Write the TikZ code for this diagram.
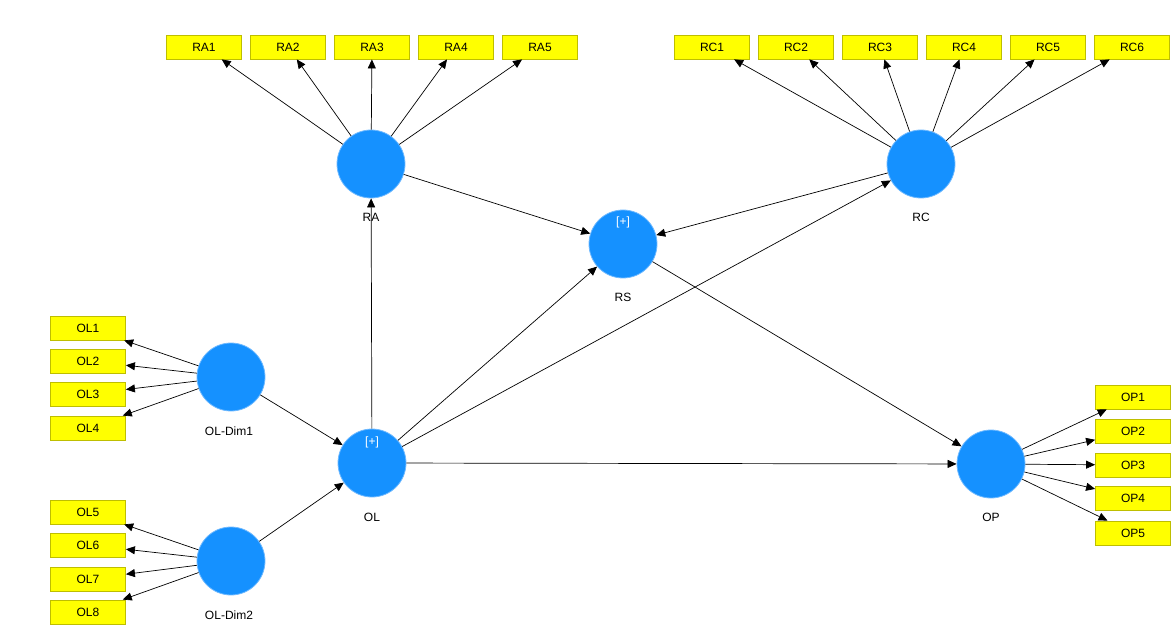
\documentclass[tikz,border=0pt]{standalone}
\usepackage{fontspec}
\setmainfont{Liberation Sans}
\usetikzlibrary{arrows.meta}
\definecolor{lvblue}{RGB}{21,145,255}
\definecolor{lvedge}{RGB}{110,185,255}
\definecolor{indfill}{RGB}{255,255,0}
\definecolor{indedge}{RGB}{190,190,0}
\tikzset{
  lv/.style={circle, fill=lvblue, draw=lvedge, line width=0.8pt, minimum size=68pt, inner sep=0pt},
  ind/.style={rectangle, fill=indfill, draw=indedge, line width=0.8pt, minimum width=75pt, minimum height=24pt, inner sep=0pt, font=\fontsize{12}{14}\selectfont},
  lbl/.style={font=\fontsize{12}{14}\selectfont, inner sep=0pt},
  plus/.style={font=\fontsize{12}{14}\selectfont, text=white, inner sep=0pt},
  con/.style={draw=black, line width=0.7pt, -{Triangle[length=9pt,width=8pt]}}
}
\begin{document}
\begin{tikzpicture}[x=1pt,y=-1pt]
\useasboundingbox (0,0) rectangle (1176,631);
% latent variables
\node[lv] (RA) at (371,164) {};
\node[lv] (RC) at (921,164) {};
\node[lv] (RS) at (623,244) {};
\node[lv] (D1) at (231,377) {};
\node[lv] (OL) at (372,463) {};
\node[lv] (D2) at (231,561) {};
\node[lv] (OP) at (991,464) {};
% labels
\node[lbl] (RAl) at (371,217) {RA};
\node[lbl] (RCl) at (921,217) {RC};
\node[lbl] (RSl) at (623,297) {RS};
\node[lbl] (D1l) at (229,431) {OL-Dim1};
\node[lbl] (OLl) at (372,517) {OL};
\node[lbl] (D2l) at (229,615) {OL-Dim2};
\node[lbl] (OPl) at (991,517) {OP};
\node[plus] (RSp) at (623,222) {[+]};
\node[plus] (OLp) at (372,442) {[+]};
% indicators RA
\foreach \i/\x in {1/204,2/288,3/372,4/456,5/540}{
  \node[ind] (RA\i) at (\x,47) {RA\i};
  \draw[con] (RA) -- (RA\i);
}
% indicators RC
\foreach \i/\x in {1/712,2/796,3/880,4/964,5/1048,6/1132}{
  \node[ind] (RC\i) at (\x,47) {RC\i};
  \draw[con] (RC) -- (RC\i);
}
% indicators OL-Dim1
\foreach \i/\y in {1/328,2/361,3/394,4/428}{
  \node[ind] (OL\i) at (88,\y) {OL\i};
  \draw[con] (D1) -- (OL\i);
}
% indicators OL-Dim2
\foreach \i/\y in {5/512,6/545,7/579,8/612}{
  \node[ind] (OL\i) at (88,\y) {OL\i};
  \draw[con] (D2) -- (OL\i);
}
% indicators OP
\foreach \i/\y in {1/397,2/431,3/465,4/498,5/533}{
  \node[ind] (OP\i) at (1133,\y) {OP\i};
  \draw[con] (OP) -- (OP\i);
}
% structural paths
\draw[con] (RA) -- (RS);
\draw[con] (RC) -- (RS);
\draw[con] (OL) -- (RA);
\draw[con] (OL) -- (RS);
\draw[con] (OL) -- (RC);
\draw[con] (OL) -- (OP);
\draw[con] (RS) -- (OP);
\draw[con] (D1) -- (OL);
\draw[con] (D2) -- (OL);
\end{tikzpicture}
\end{document}
